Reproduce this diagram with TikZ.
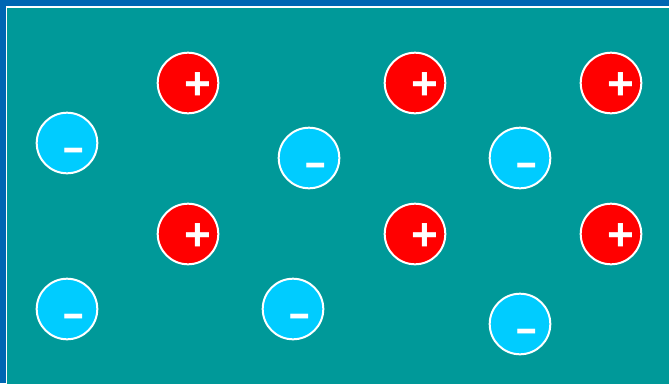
\documentclass[tikz,border=0pt]{standalone}
\usepackage{fontspec}
\setmainfont{Liberation Sans}
\usepackage{tikz}
\usetikzlibrary{positioning}
\usepackage{xcolor}
\definecolor{frameblue}{RGB}{0,102,179}
\definecolor{boardteal}{RGB}{0,153,153}
\definecolor{poscolor}{RGB}{255,0,0}
\definecolor{negcolor}{RGB}{0,204,255}

\begin{document}
\begin{tikzpicture}[
  x=1pt,y=-1pt,
  ion/.style={circle,draw=white,line width=2pt,minimum size=60.6pt,inner sep=0pt},
  posion/.style={ion,fill=poscolor},
  negion/.style={ion,fill=negcolor},
  plussign/.style={text=white,inner sep=0pt,anchor=base,font=\fontsize{46}{46}\selectfont\bfseries},
  minussign/.style={text=white,inner sep=0pt,anchor=base,font=\fontsize{60}{60}\selectfont}
]
  % frame and board
  \fill[frameblue] (0,0) rectangle (669,383);
  \useasboundingbox (0,0) rectangle (669,383);
  \draw[white,line width=1.5pt,fill=boardteal] (6.3,6.8) rectangle (690,400);

  % positive ions
  \node[posion] (p1) at (188,83)  {};
  \node[posion] (p2) at (415,83)  {};
  \node[posion] (p3) at (611,83)  {};
  \node[posion] (p4) at (188,234) {};
  \node[posion] (p5) at (415,234) {};
  \node[posion] (p6) at (611,234) {};
  \node[plussign,xshift=10pt,yshift=-16.5pt] (p1s) at (p1) {+};
  \node[plussign,xshift=10pt,yshift=-16.5pt] (p2s) at (p2) {+};
  \node[plussign,xshift=10pt,yshift=-16.5pt] (p3s) at (p3) {+};
  \node[plussign,xshift=10pt,yshift=-16.5pt] (p4s) at (p4) {+};
  \node[plussign,xshift=10pt,yshift=-16.5pt] (p5s) at (p5) {+};
  \node[plussign,xshift=10pt,yshift=-16.5pt] (p6s) at (p6) {+};

  % negative ions
  \node[negion] (n1) at (67,143)  {};
  \node[negion] (n2) at (309,158) {};
  \node[negion] (n3) at (520,158) {};
  \node[negion] (n4) at (67,309)  {};
  \node[negion] (n5) at (293,309) {};
  \node[negion] (n6) at (520,324) {};
  \node[minussign,xshift=7pt,yshift=-23.3pt] (n1s) at (n1) {\scalebox{1.22}[1]{-}};
  \node[minussign,xshift=7pt,yshift=-23.3pt] (n2s) at (n2) {\scalebox{1.22}[1]{-}};
  \node[minussign,xshift=7pt,yshift=-23.3pt] (n3s) at (n3) {\scalebox{1.22}[1]{-}};
  \node[minussign,xshift=7pt,yshift=-23.3pt] (n4s) at (n4) {\scalebox{1.22}[1]{-}};
  \node[minussign,xshift=7pt,yshift=-23.3pt] (n5s) at (n5) {\scalebox{1.22}[1]{-}};
  \node[minussign,xshift=7pt,yshift=-23.3pt] (n6s) at (n6) {\scalebox{1.22}[1]{-}};
\end{tikzpicture}
\end{document}
